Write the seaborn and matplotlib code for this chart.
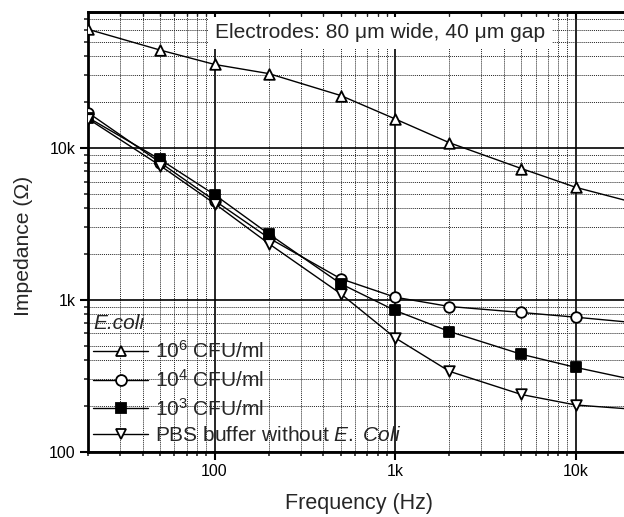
import matplotlib
matplotlib.use("Agg")
import matplotlib.pyplot as plt
from matplotlib.lines import Line2D
from matplotlib.ticker import FixedLocator, FixedFormatter, LogLocator, NullFormatter
import seaborn as sns
import pandas as pd

# ---- data ----
freq = [20, 50, 100, 200, 500, 1000, 2000, 5000, 10000]
freq_end = 20000
z_1e6 = [60200, 44000, 35400, 30800, 22100, 15500, 10800, 7310, 5500]
z_1e6_end = 4430
z_1e4 = [17000, 8000, 4500, 2550, 1375, 1040, 903, 825, 768]
z_1e4_end = 711
z_1e3 = [15800, 8380, 4920, 2710, 1275, 850, 618, 438, 359]
z_1e3_end = 301
z_pbs = [15500, 7640, 4300, 2340, 1095, 562, 338, 238, 203]
z_pbs_end = 191

labels = ["10$^{6}$ CFU/ml", "10$^{4}$ CFU/ml", "10$^{3}$ CFU/ml",
          "PBS buffer without $\\mathit{E.\\ Coli}$"]
legend_title = "E.coli"
annotation = "Electrodes: 80 \u03bcm wide, 40 \u03bcm gap"
xtick_vals = [100, 1000, 10000]
xtick_labels = ["100", "1k", "10k"]
ytick_vals = [100, 1000, 10000]
ytick_labels = ["100", "1k", "10k"]

series = [
    (z_1e6, z_1e6_end, "^", "white"),
    (z_1e4, z_1e4_end, "o", "white"),
    (z_1e3, z_1e3_end, "s", "black"),
    (z_pbs, z_pbs_end, "v", "white"),
]

sns.set_style("white")
plt.rcParams["font.family"] = ["Liberation Sans", "DejaVu Sans"]
plt.rcParams["mathtext.fontset"] = "custom"
plt.rcParams["mathtext.rm"] = "Liberation Sans"
plt.rcParams["mathtext.it"] = "Liberation Sans:italic"

fig = plt.figure(figsize=(6.24, 5.17), dpi=100)
ax = fig.add_axes([88.3 / 624, (517 - 451.7) / 517, (630 - 88.3) / 624, (451.7 - 12.3) / 517])

handles = []
for vals, end, mk, fc in series:
    df_line = pd.DataFrame({"f": freq + [freq_end], "z": vals + [end]})
    sns.lineplot(data=df_line, x="f", y="z", color="black", lw=1.0, ax=ax,
                 zorder=3, legend=False)
    df_pt = pd.DataFrame({"f": freq, "z": vals})
    sns.scatterplot(data=df_pt, x="f", y="z", marker=mk, s=58, facecolor=fc,
                    edgecolor="black", linewidth=1.3, ax=ax, zorder=4, legend=False)
    handles.append(Line2D([0], [0], color="black", lw=1.0, marker=mk, markersize=7.8,
                          markerfacecolor=fc, markeredgecolor="black", markeredgewidth=1.3))

ax.set_xscale("log")
ax.set_yscale("log")
ax.set_xlim(20, 20000)
ax.set_ylim(100, 78000)

ax.xaxis.set_major_locator(FixedLocator(xtick_vals))
ax.xaxis.set_major_formatter(FixedFormatter(xtick_labels))
ax.yaxis.set_major_locator(FixedLocator(ytick_vals))
ax.yaxis.set_major_formatter(FixedFormatter(ytick_labels))
ax.xaxis.set_minor_locator(LogLocator(base=10, subs=range(2, 10)))
ax.yaxis.set_minor_locator(LogLocator(base=10, subs=range(2, 10)))
ax.xaxis.set_minor_formatter(NullFormatter())
ax.yaxis.set_minor_formatter(NullFormatter())

ax.grid(which="major", color="black", lw=1.2, ls="-", zorder=1)
ax.grid(which="minor", color="#222222", lw=0.7, ls=(0, (1, 1)), zorder=1)
ax.set_axisbelow(True)

for s in ["left", "bottom", "top", "right"]:
    ax.spines[s].set_linewidth(2.0)
    ax.spines[s].set_color("black")
    ax.spines[s].set_visible(True)

ax.tick_params(which="major", direction="out", length=6, width=1.5,
               labelsize=11.5, colors="black", left=True, bottom=True, pad=3)
ax.tick_params(which="minor", direction="out", length=3, width=1.2,
               left=True, bottom=True)

# inward ticks on the top spine
top = ax.secondary_xaxis("top", functions=(lambda v: v, lambda v: v))
top.set_xscale("log")
top.xaxis.set_major_locator(FixedLocator(xtick_vals))
top.xaxis.set_minor_locator(LogLocator(base=10, subs=range(2, 10)))
top.xaxis.set_major_formatter(NullFormatter())
top.xaxis.set_minor_formatter(NullFormatter())
top.tick_params(which="major", direction="in", length=5, width=1.5)
top.tick_params(which="minor", direction="in", length=3, width=1.0)
top.spines["top"].set_linewidth(2.0)

ax.set_xlabel("Frequency (Hz)", fontsize=15.5)
ax.set_ylabel("Impedance (\u03a9)", fontsize=15.2)
ax.xaxis.set_label_coords(0.5, (451.7 - 493) / 439.4)
ax.yaxis.set_label_coords((33 - 88.3) / 541.7, (451.7 - 246) / 439.4)

ax.text((380 - 88.3) / 541.7, (451.7 - 33) / 439.4, annotation, transform=ax.transAxes,
        ha="center", va="center", fontsize=15.1, zorder=5,
        bbox=dict(facecolor="white", edgecolor="none", pad=5))

leg = ax.legend(handles, labels, title=legend_title, loc="lower left",
                bbox_to_anchor=(-0.003, 0.0), frameon=False, fontsize=15,
                title_fontproperties={"size": 15, "style": "italic"},
                handlelength=2.65, handletextpad=0.34, labelspacing=0.33,
                borderpad=0.2, borderaxespad=0.1, alignment="left")
leg.set_zorder(6)

fig.savefig("out.png", dpi=100)
